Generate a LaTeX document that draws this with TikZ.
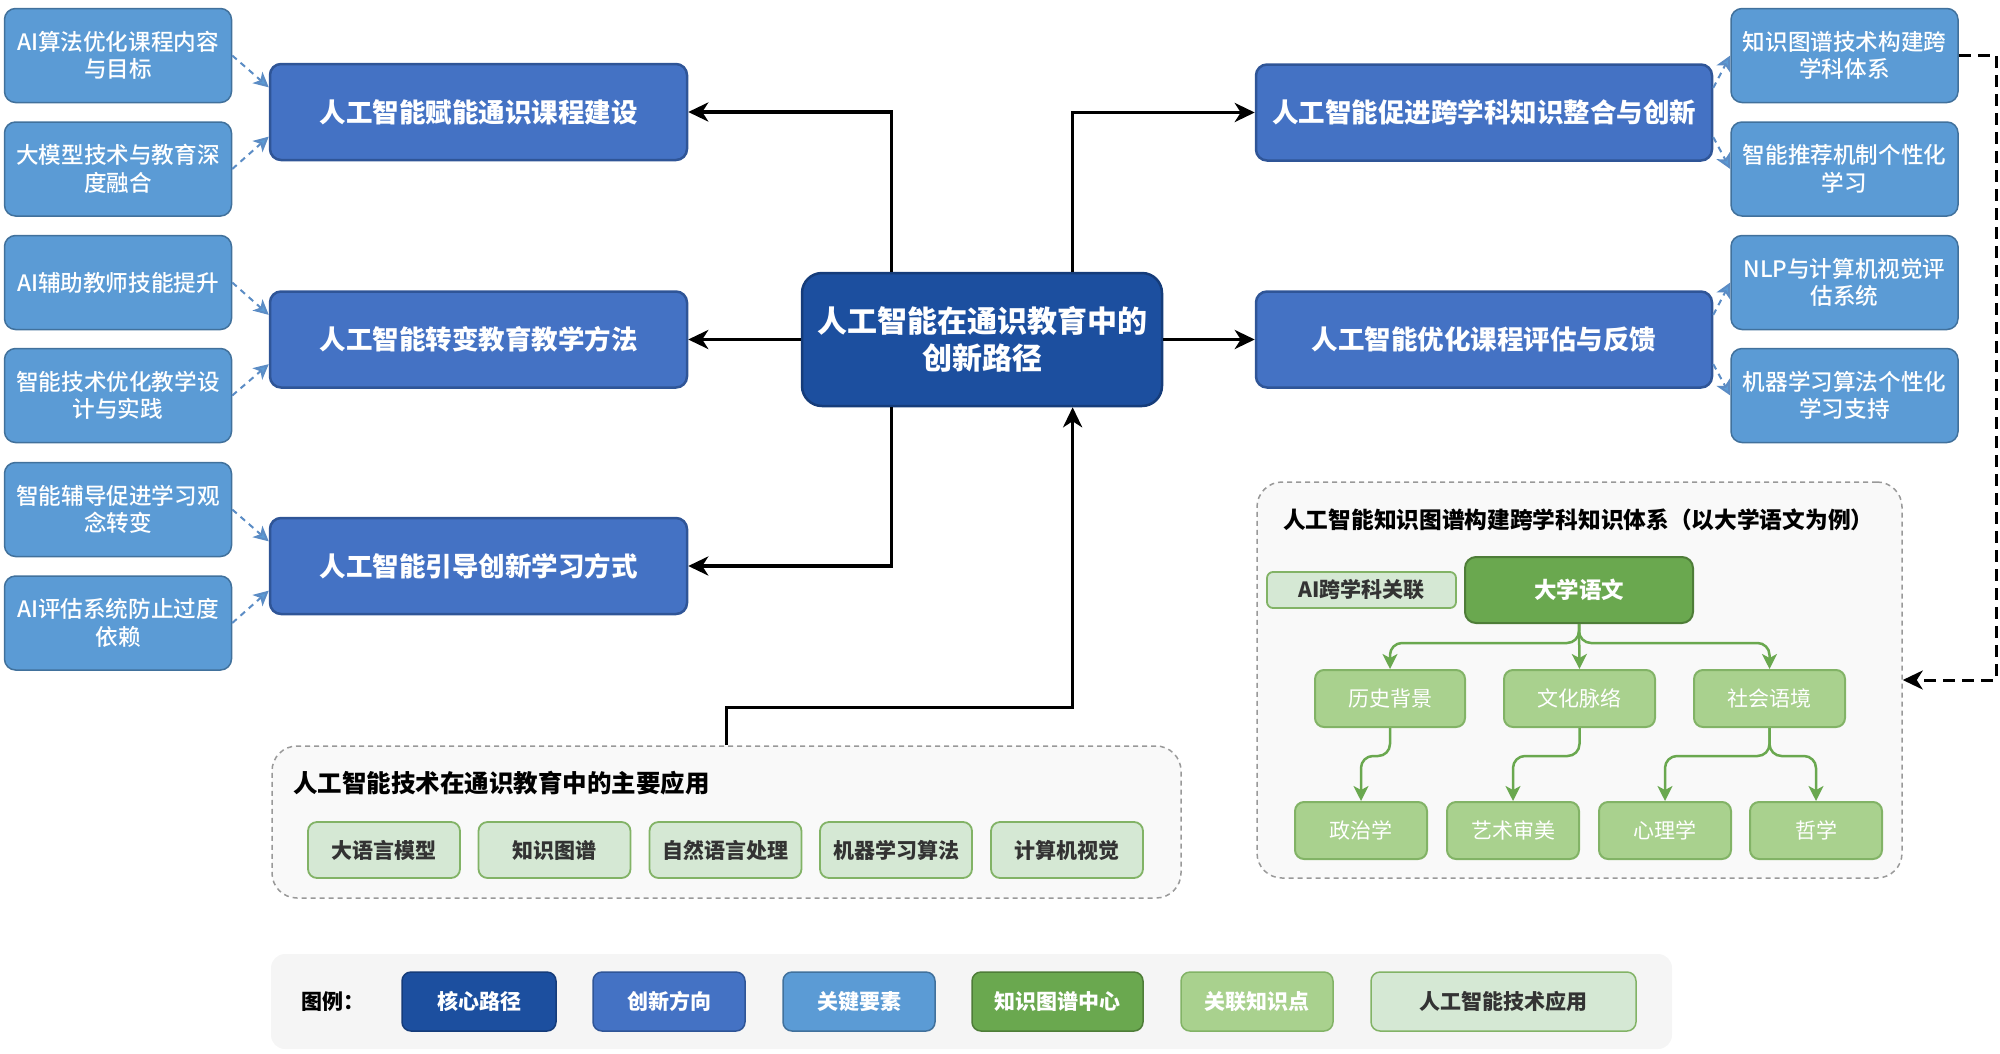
\documentclass[tikz,border=0pt]{standalone}
\usepackage{fontspec}
\setmainfont{Noto Sans CJK SC}
\newfontfamily\medfont{Noto Sans CJK SC Medium}
\usetikzlibrary{arrows.meta,calc}
\definecolor{corec}{HTML}{1C4F9F}
\definecolor{cored}{HTML}{153C7A}
\definecolor{dirc}{HTML}{4472C4}
\definecolor{dird}{HTML}{2F5597}
\definecolor{keyc}{HTML}{5B9BD5}
\definecolor{keyd}{HTML}{41719C}
\definecolor{kgc}{HTML}{6AA84F}
\definecolor{kgd}{HTML}{4E7D38}
\definecolor{relc}{HTML}{A9D18E}
\definecolor{reld}{HTML}{82B366}
\definecolor{techc}{HTML}{D5E8D4}
\definecolor{techd}{HTML}{82B366}
\definecolor{dconn}{HTML}{5B8CC5}
\definecolor{gconn}{HTML}{6AA84F}
\definecolor{contbg}{HTML}{F9F9F9}
\definecolor{contd}{HTML}{999999}
\definecolor{legbg}{HTML}{F5F5F5}
\definecolor{darktext}{HTML}{333333}
\tikzset{
  base/.style={rounded corners=11pt, inner sep=0pt, align=center, text=white},
  keybox/.style={base, fill=keyc, draw=keyd, line width=1.5pt, minimum width=227pt, minimum height=94pt,
    font=\medfont\fontsize{22.6}{27.5}\selectfont},
  dirbox/.style={base, fill=dirc, draw=dird, line width=2.5pt, minimum height=96pt,
    font=\bfseries\fontsize{26.5}{32}\selectfont},
  corebox/.style={base, rounded corners=20pt, fill=corec, draw=cored, line width=2.5pt,
    minimum width=360pt, minimum height=133pt, font=\bfseries\fontsize{30}{37}\selectfont},
  kgbox/.style={base, fill=kgc, draw=kgd, line width=2pt, font=\bfseries\fontsize{22.5}{27}\selectfont},
  relbox/.style={base, rounded corners=9pt, fill=relc, draw=reld, line width=2pt,
    minimum height=57pt, font=\fontsize{21}{25}\selectfont},
  techbox/.style={base, rounded corners=9pt, fill=techc, draw=techd, line width=1.8pt, text=darktext,
    minimum height=56pt, font=\bfseries\fontsize{21}{25}\selectfont},
  contbox/.style={rounded corners=25pt, fill=contbg, draw=contd, line width=1.5pt, dash pattern=on 5pt off 4pt, inner sep=0pt},
  ttl/.style={anchor=west, inner sep=0pt, text=black, font=\bfseries\fontsize{22.7}{27}\selectfont},
  legbox/.style={base, rounded corners=9pt, line width=1.5pt, minimum height=59pt,
    font=\bfseries\fontsize{21}{25}\selectfont},
  mainarrow/.style={line width=3.5pt, black, -{Stealth[length=20pt,width=19pt,inset=6pt]}},
  dconnarrow/.style={line width=2pt, dconn, dash pattern=on 6pt off 5pt, -{Stealth[length=15pt,width=15pt,inset=4pt,fill=keyc]}},
  garrow/.style={line width=2.5pt, gconn, rounded corners=12pt, -{Stealth[length=15pt,width=15pt,inset=4pt]}},
  blackdash/.style={line width=3pt, black, dash pattern=on 12pt off 7pt, -{Stealth[length=20pt,width=19pt,inset=6pt]}}
}
\begin{document}
\begin{tikzpicture}[x=1pt,y=-1pt]
\useasboundingbox (0,0) rectangle (2000,1053);
% left key boxes
\node[keybox] (k1) at (118,55.5) {AI算法优化课程内容\\与目标};
\node[keybox] (k2) at (118,169) {大模型技术与教育深\\度融合};
\node[keybox] (k3) at (118,282.5) {AI辅助教师技能提升};
\node[keybox] (k4) at (118,395.5) {智能技术优化教学设\\计与实践};
\node[keybox] (k5) at (118,509.5) {智能辅导促进学习观\\念转变};
\node[keybox] (k6) at (118,623) {AI评估系统防止过度\\依赖};
% left direction boxes
\node[dirbox, minimum width=417pt] (d1) at (478.5,112) {人工智能赋能通识课程建设};
\node[dirbox, minimum width=417pt] (d2) at (478.5,339.5) {人工智能转变教育教学方法};
\node[dirbox, minimum width=417pt] (d3) at (478.5,566) {人工智能引导创新学习方式};
% center
\node[corebox] (c) at (982,339.5) {人工智能在通识教育中的\\创新路径};
% right direction boxes
\node[dirbox, minimum width=456pt] (d4) at (1484,112.5) {人工智能促进跨学科知识整合与创新};
\node[dirbox, minimum width=456pt] (d5) at (1484,339.5) {人工智能优化课程评估与反馈};
% right key boxes
\node[keybox] (k7) at (1844.5,55.5) {知识图谱技术构建跨\\学科体系};
\node[keybox] (k8) at (1844.5,169) {智能推荐机制个性化\\学习};
\node[keybox] (k9) at (1844.5,282.5) {NLP与计算机视觉评\\估系统};
\node[keybox] (k10) at (1844.5,395.5) {机器学习算法个性化\\学习支持};
% key -> direction dashed connectors
\foreach \k/\d/\f in {k1/d1/0.25,k2/d1/0.75,k3/d2/0.25,k4/d2/0.75,k5/d3/0.25,k6/d3/0.75}{
  \draw[dconnarrow] (\k.east) -- ($(\d.north west)!\f!(\d.south west)$);
}
\foreach \k/\d/\f in {k7/d4/0.25,k8/d4/0.75,k9/d5/0.25,k10/d5/0.75}{
  \draw[dconnarrow] ($(\d.north east)!\f!(\d.south east)$) -- (\k.west);
}
% center connectors
\coordinate (cNW) at ($(c.north west)!0.25!(c.north east)$);
\coordinate (cNE) at ($(c.north west)!0.75!(c.north east)$);
\coordinate (cSW) at ($(c.south west)!0.25!(c.south east)$);
\coordinate (cSE) at ($(c.south west)!0.75!(c.south east)$);
\draw[mainarrow] (cNW) |- (d1.east);
\draw[mainarrow] (c.west) -- (d2.east);
\draw[mainarrow] (cSW) |- (d3.east);
\draw[mainarrow] (cNE) |- (d4.west);
\draw[mainarrow] (c.east) -- (d5.west);
% KG container
\node[contbox, minimum width=645pt, minimum height=396pt] (kgc) at (1579.5,680) {};
\node[ttl] (kgt) at (1283,520) {人工智能知识图谱构建跨学科知识体系（以大学语文为例）};
\node[techbox, minimum width=189pt, minimum height=36pt, rounded corners=6pt] (ailink) at (1361.5,590) {AI跨学科关联};
\node[kgbox, minimum width=228pt, minimum height=66pt] (dx) at (1579,590) {大学语文};
\node[relbox, minimum width=150pt] (ls) at (1390,698.5) {历史背景};
\node[relbox, minimum width=151pt] (wh) at (1579.5,698.5) {文化脉络};
\node[relbox, minimum width=151pt] (sh) at (1769.5,698.5) {社会语境};
\node[relbox, minimum width=132pt] (zz) at (1361,830.5) {政治学};
\node[relbox, minimum width=132pt] (ys) at (1513,830.5) {艺术审美};
\node[relbox, minimum width=132pt] (xl) at (1665,830.5) {心理学};
\node[relbox, minimum width=132pt] (zx) at (1816,830.5) {哲学};
\draw[garrow] (dx.south) -- ++(0,19) -| (ls.north);
\draw[garrow] (dx.south) -- (wh.north);
\draw[garrow] (dx.south) -- ++(0,19) -| (sh.north);
\draw[garrow] (ls.south) -- ++(0,28) -| (zz.north);
\draw[garrow] (wh.south) -- ++(0,28) -| (ys.north);
\draw[garrow] (sh.south) -- ++(0,28) -| (xl.north);
\draw[garrow] (sh.south) -- ++(0,28) -| (zx.north);
% dashed link from k7 to KG container
\draw[blackdash] (k7.east) -- (1996,55.5) |- (kgc.east);
% tech container
\node[contbox, minimum width=909pt, minimum height=152pt] (tc) at (726.5,822) {};
\node[ttl, font=\bfseries\fontsize{24.5}{29}\selectfont] (tct) at (293,783) {人工智能技术在通识教育中的主要应用};
\node[techbox, minimum width=152pt] (t1) at (384,850) {大语言模型};
\node[techbox, minimum width=152pt] (t2) at (554.5,850) {知识图谱};
\node[techbox, minimum width=152pt] (t3) at (725.5,850) {自然语言处理};
\node[techbox, minimum width=152pt] (t4) at (896,850) {机器学习算法};
\node[techbox, minimum width=152pt] (t5) at (1067,850) {计算机视觉};
\draw[mainarrow] (tc.north) -- ++(0,-38) -| (cSE);
% legend
\node[fill=legbg, rounded corners=14pt, minimum width=1401pt, minimum height=95pt, inner sep=0pt] (leg) at (971.5,1001.5) {};
\node[anchor=west, inner sep=0pt, font=\bfseries\fontsize{21}{25}\selectfont] (legt) at (301,1002) {图例：};
\node[legbox, fill=corec, draw=cored, minimum width=154pt] (l1) at (479,1001.5) {核心路径};
\node[legbox, fill=dirc, draw=dird, minimum width=152pt] (l2) at (669,1001.5) {创新方向};
\node[legbox, fill=keyc, draw=keyd, minimum width=152pt] (l3) at (859,1001.5) {关键要素};
\node[legbox, fill=kgc, draw=kgd, minimum width=171pt] (l4) at (1057.5,1001.5) {知识图谱中心};
\node[legbox, fill=relc, draw=reld, minimum width=152pt] (l5) at (1257,1001.5) {关联知识点};
\node[legbox, fill=techc, draw=techd, text=darktext, minimum width=265pt] (l6) at (1503.5,1001.5) {人工智能技术应用};
\end{tikzpicture}
\end{document}
